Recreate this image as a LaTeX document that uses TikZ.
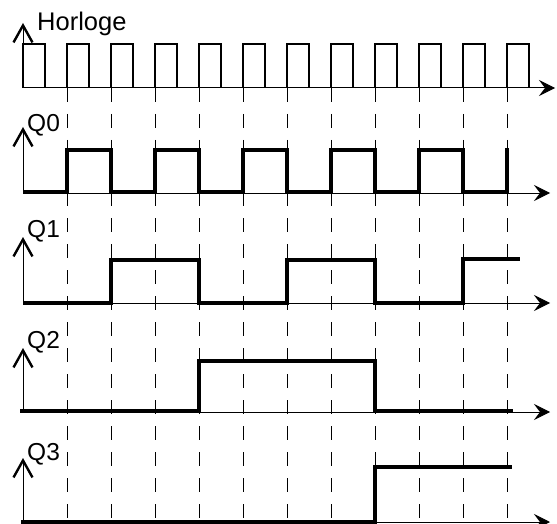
\documentclass[tikz,border=0pt]{standalone}
\usepackage{fontspec}
\setmainfont{Liberation Sans}
\usetikzlibrary{arrows.meta}

\begin{document}
\begin{tikzpicture}[x=1pt,y=-1pt,
    axe/.style={line width=1pt,-{Stealth[length=16pt,width=16pt,inset=6pt]}},
    axev/.style={line width=1pt,-{Straight Barb[length=17pt,width=19pt,line width=2.4pt]}},
    horloge/.style={line width=1.3pt},
    signal/.style={line width=4pt},
    repere/.style={line width=1pt,dash pattern=on 14pt off 12pt},
    lbl/.style={inner sep=0pt,anchor=base west,font=\fontsize{24.5}{24.5}\selectfont}]
  \useasboundingbox (0,0) rectangle (557,524);
  % reperes des fronts montants
  \foreach \k in {0,...,10}
    \draw[repere] ({67+44*\k},88) -- ({67+44*\k},524);
  % axes
  \draw[axev] (23,88) -- (23,23);
  \draw[axe] (23,88) -- (555,88);
  \draw[axev] (23,193) -- (23,127);
  \draw[axe] (23,193) -- (550,193);
  \draw[axev] (23,303) -- (23,237);
  \draw[axe] (23,303) -- (550,303);
  \draw[axev] (23,412) -- (23,348);
  \draw[axe] (23,412) -- (550,412);
  \draw[axev] (23,522) -- (23,458);
  \draw[axe] (23,522) -- (550,522);
  % horloge
  \foreach \k in {0,...,11}
    \draw[horloge] ({23+44*\k},88) |- ({45+44*\k},44) -- ({45+44*\k},88);
  % sorties du compteur
  \draw[signal] (23,192) -| (67,150) -| (111,192) -| (155,150) -| (199,192) -| (243,150)
    -| (287,192) -| (331,150) -| (375,192) -| (419,150) -| (463,192) -| (507,148);
  \draw[signal] (23,303) -| (111,260) -| (199,303) -| (287,260) -| (375,303) -| (463,259) -- (520,259);
  \draw[signal] (20,411) -| (199,361) -| (375,411) -- (513,411);
  \draw[signal] (21,522) -| (375,467) -- (512,467);
  % noms des signaux
  \node[lbl,font=\fontsize{25.5}{25.5}\selectfont] (nhorloge) at (37,31) {Horloge};
  \node[lbl] (nq0) at (27,132) {Q0};
  \node[lbl] (nq1) at (27,237) {Q1};
  \node[lbl] (nq2) at (27,348) {Q2};
  \node[lbl] (nq3) at (27,460) {Q3};
\end{tikzpicture}
\end{document}
